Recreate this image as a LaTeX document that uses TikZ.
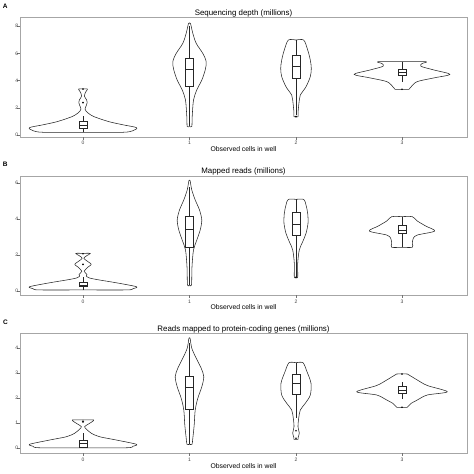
\documentclass[tikz,border=0pt]{standalone}
\usepackage{fontspec}
\setmainfont{Liberation Sans}
% half profile (half width in pt, value), mirrored about the category
\newcommand{\violin}[2]{%
  \foreach \side in {1,-1}{%
    \begin{scope}[shift={(#1,0)},xscale=\side]
      \path[violin] plot[smooth,tension=0.5] coordinates {#2};
    \end{scope}}}
% x, lower whisker, q1, median, q3, upper whisker
\newcommand{\boxwhisker}[6]{%
  \path[whisker] (#1,#2) -- (#1,#3) (#1,#5) -- (#1,#6);
  \path[box] (#1-4,#3) rectangle (#1+4,#5);
  \path[box] (#1-4,#4) -- (#1+4,#4);}
\begin{document}
\begin{tikzpicture}[x=1pt,y=-1pt]
  \tikzstyle{violin}=[draw=black!85,line width=0.55pt,line join=round]
  \tikzstyle{box}=[draw=black!85,line width=0.55pt]
  \tikzstyle{whisker}=[draw=black!85,line width=0.5pt]
  \tikzstyle{frame}=[draw=black!35,line width=0.7pt]
  \tikzstyle{tick}=[draw=black!55,line width=0.5pt]
  \tikzstyle{ticklabel}=[text=black!75,font=\fontsize{5}{6}\selectfont,inner sep=0pt]
  \tikzstyle{title}=[font=\fontsize{7.9}{9}\selectfont,inner sep=0pt]
  \tikzstyle{axislabel}=[font=\fontsize{6.8}{8}\selectfont,inner sep=0pt]
  \tikzstyle{panel}=[font=\bfseries\fontsize{6.5}{7}\selectfont,inner sep=0pt]
  \tikzstyle{outlier}=[fill=black]
  \useasboundingbox (0,0) rectangle (474,474);

  % frames, x ticks and labels of the three panels
  \foreach \p/\top/\bot/\ty/\ly in {A/17/137/143/149.3,B/176/295/301.7/307.3,C/333/453/459.3/465.7}{
    \path[frame] (20,\top) rectangle (467,\bot);
    \foreach \k/\x in {0/83,1/189.5,2/296,3/402}
      \path[tick] (\x,\bot) -- (\x,\bot+2.5);
    \foreach \k/\x in {0/83,1/189.5,2/296,3/402}
      \node[ticklabel] (x\p\k) at (\x,\ty) {\k};
    \node[axislabel] (xlab\p) at (243.5,\ly) {Observed cells in well};
  }
  \node[panel] (labA) at (5.3,6) {A};
  \node[panel] (labB) at (5.3,164) {B};
  \node[panel] (labC) at (5.5,322) {C};
  \node[title] (titleA) at (243.5,13) {Sequencing depth (millions)};
  \node[title] (titleB) at (243.5,171) {Mapped reads (millions)};
  \node[title] (titleC) at (243.5,329) {Reads mapped to protein-coding genes (millions)};

  % A: sequencing depth
  \begin{scope}[shift={(0,135)},y=13.6pt]
    \foreach \v in {0,2,...,8}
      \path[tick] (17,\v) -- (20,\v) node[ticklabel,anchor=east,xshift=-1.5pt] (yA\v) {\v};
    \violin{83}{(0,0.2) (40,0.2) (50,0.32) (53.5,0.54) (40,0.75) (26,0.98) (11,1.35) (5,1.62) (2,1.9) (3.5,2.2) (4.2,2.4) (3.5,2.6) (1.3,2.87) (3,3.2) (4.5,3.38) (0,3.38)}
    \violin{189.5}{(0,0.63) (2.3,0.63) (2.7,1.35) (4,2.57) (7.3,3.31) (12.3,4.04) (15.7,4.78) (16.7,5.39) (13.3,6.0) (6.7,6.74) (3.3,7.48) (1,8.2) (0,8.2)}
    \violin{296}{(0,1.35) (2,1.35) (2.2,1.8) (3.3,2.57) (4.3,2.94) (10,3.55) (14.3,4.29) (15.3,4.9) (14.3,5.51) (11.7,6.25) (7.7,6.98) (0,6.98)}
    \violin{402}{(0,3.36) (7,3.36) (8.7,3.51) (15,3.92) (32,4.2) (48,4.46) (32,4.78) (19,5.05) (20,5.25) (24,5.39) (0,5.39)}
    \boxwhisker{83}{0.2}{0.49}{0.68}{0.98}{1.42}
    \boxwhisker{189.5}{0.63}{3.55}{4.83}{5.64}{8.0}
    \boxwhisker{296}{1.45}{4.17}{5.02}{5.88}{6.98}
    \boxwhisker{402}{3.92}{4.37}{4.62}{4.81}{5.39}
    \path[outlier] (83,2.38) circle (0.9pt) (83,3.38) circle (0.9pt)
      (296,1.35) circle (0.9pt) (402,3.36) circle (0.9pt);
  \end{scope}

  % B: mapped reads
  \begin{scope}[shift={(0,291)},y=18pt]
    \foreach \v in {0,2,...,6}
      \path[tick] (17,\v) -- (20,\v) node[ticklabel,anchor=east,xshift=-1.5pt] (yB\v) {\v};
    \violin{83}{(0,0.06) (44,0.06) (50,0.13) (53.3,0.24) (33,0.46) (16.7,0.61) (6.7,0.72) (3.3,0.83) (4,0.92) (1.2,1.1) (5,1.33) (8.3,1.48) (5,1.63) (0.8,1.82) (4,1.97) (7.3,2.09) (0,2.09)}
    \violin{189.5}{(0,0.33) (2,0.33) (2.5,1.35) (4,2.28) (7.3,2.83) (10.7,3.39) (12.3,3.94) (10,4.5) (5.7,5.06) (2.3,5.61) (0.6,6.13) (0,6.13)}
    \violin{296}{(0,0.76) (1.7,0.76) (1.7,1.54) (3.3,2.28) (6.7,2.74) (10,3.2) (12,3.76) (11.7,4.31) (10,4.78) (7.7,5.09) (0,5.09)}
    \violin{402}{(0,2.43) (10.3,2.43) (10.3,2.65) (11.3,2.93) (15.3,3.11) (32.7,3.33) (23.7,3.61) (15.3,3.89) (10.3,4.13) (0,4.13)}
    \boxwhisker{83}{0.06}{0.24}{0.33}{0.46}{0.8}
    \boxwhisker{189.5}{0.35}{2.41}{3.44}{4.13}{5.8}
    \boxwhisker{296}{0.76}{3.07}{3.72}{4.37}{5.09}
    \boxwhisker{402}{2.43}{3.2}{3.35}{3.67}{4.13}
    \path[outlier] (83,1.48) circle (0.9pt) (83,2.07) circle (0.9pt)
      (296,0.76) circle (0.9pt);
  \end{scope}

  % C: reads mapped to protein-coding genes
  \begin{scope}[shift={(0,448)},y=25pt]
    \foreach \v in {0,...,4}
      \path[tick] (17,\v) -- (20,\v) node[ticklabel,anchor=east,xshift=-1.5pt] (yC\v) {\v};
    \violin{83}{(0,0.01) (44,0.01) (50,0.07) (53.3,0.15) (33.3,0.32) (16.7,0.45) (8.3,0.59) (3.3,0.76) (1.7,0.86) (6.7,0.99) (10.7,1.12) (0,1.12)}
    \violin{189.5}{(0,0.15) (2.5,0.15) (3.3,0.39) (4.7,0.92) (5.7,1.52) (8.3,1.99) (12.3,2.45) (14.3,2.85) (11.7,3.19) (6.7,3.59) (2.3,3.99) (0.6,4.39) (0,4.39)}
    \violin{296}{(0,0.35) (2,0.35) (2.3,0.45) (3.3,0.6) (2,0.85) (2.7,1.19) (4.3,1.52) (9.3,1.79) (14.3,2.12) (15,2.59) (11,3.05) (7,3.41) (0,3.41)}
    \violin{402}{(0,1.63) (5.3,1.63) (7,1.7) (9.3,1.79) (15.3,1.92) (25.3,2.12) (45.3,2.25) (25.3,2.5) (15.3,2.72) (8.7,2.88) (5.3,2.96) (0,2.96)}
    \boxwhisker{83}{0.01}{0.03}{0.19}{0.32}{0.59}
    \boxwhisker{189.5}{0.17}{1.56}{2.43}{2.88}{4.2}
    \boxwhisker{296}{1.2}{2.15}{2.59}{2.95}{3.41}
    \boxwhisker{402}{1.96}{2.19}{2.29}{2.48}{2.65}
    \path[outlier] (83,1.05) circle (1.1pt) (296,0.69) circle (0.9pt)
      (296,0.39) circle (0.9pt) (402,1.63) circle (0.9pt) (402,2.96) circle (0.9pt);
  \end{scope}
\end{tikzpicture}
\end{document}
